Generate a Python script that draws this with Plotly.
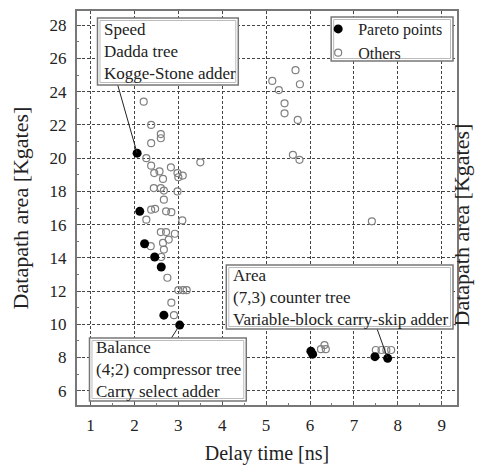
import plotly.graph_objects as go

# ---- data ----
pareto_delay = [2.06, 2.12, 2.23, 2.46, 2.61, 2.67, 3.03, 6.02, 6.06, 7.48, 7.77]
pareto_area = [20.3, 16.8, 14.85, 14.05, 13.45, 10.55, 9.95, 8.38, 8.2, 8.05, 7.95]

others_delay = [2.21, 2.38, 2.6, 2.6, 2.38, 2.27, 2.38, 2.45, 2.57, 2.65, 2.83, 2.98, 3.1, 3.0,
                3.5, 2.44, 2.6, 2.67, 2.98, 2.67, 2.38, 2.47, 2.72, 2.84, 2.27, 3.09, 2.6,
                2.72, 2.92, 2.78, 2.65, 2.37, 2.67, 2.61, 2.75, 3.0, 3.11, 3.19, 2.84, 2.9,
                5.67, 5.77, 5.14, 5.29, 5.42, 5.42, 5.72, 5.61, 5.76, 7.41,
                6.25, 6.33, 6.36, 7.5, 7.63, 7.74, 7.85]
others_area = [23.4, 22.0, 21.45, 21.2, 20.9, 20.0, 19.55, 19.1, 19.2, 18.75, 19.45, 19.1, 18.95, 18.85,
               19.75, 18.2, 18.2, 18.05, 18.0, 17.5, 16.9, 16.95, 16.8, 16.75, 16.3, 16.25, 15.55,
               15.55, 15.45, 15.1, 14.9, 14.7, 14.5, 14.05, 12.8, 12.05, 12.05, 12.05, 11.3, 10.55,
               25.3, 24.45, 24.65, 24.1, 23.3, 22.7, 22.3, 20.2, 19.9, 16.2,
               8.5, 8.75, 8.5, 8.45, 8.45, 8.45, 8.45]

x_ticks = [1, 2, 3, 4, 5, 6, 7, 8, 9]
y_ticks = [6, 8, 10, 12, 14, 16, 18, 20, 22, 24, 26, 28]

callout_texts = [
    "Speed<br>Dadda tree<br>Kogge-Stone adder",
    "Balance<br>(4;2) compressor tree<br>Carry select adder",
    "Area<br>(7,3) counter tree<br>Variable-block carry-skip adder",
]
callout_index = [0, 6, 10]   # which Pareto point each callout refers to

FONT = "Liberation Serif, Times New Roman, DejaVu Serif, serif"
OFF = 8  # page body margin
W, H = 489 - OFF, 468 - OFF
# plot area in screen pixels
SL, SR, ST, SB = 76.5, 457, 11, 405
L, R, T, B = SL - OFF, SR - OFF, ST - OFF, SB - OFF
XR = [0.69, 9.35]
YR = [5.14, 28.86]


def px(sx):
    return (sx - SL) / (SR - SL)


def py(sy):
    return (SB - sy) / (SB - ST)


def dx(v):
    return SL + (v - XR[0]) / (XR[1] - XR[0]) * (SR - SL)


def dy(v):
    return SB - (v - YR[0]) / (YR[1] - YR[0]) * (SB - ST)


fig = go.Figure()
fig.add_trace(go.Scatter(
    x=others_delay, y=others_area, mode="markers", name="Others",
    marker=dict(symbol="circle-open", size=7, color="#808080", line=dict(width=1.2, color="#808080")),
))
fig.add_trace(go.Scatter(
    x=pareto_delay, y=pareto_area, mode="markers", name="Pareto points",
    marker=dict(symbol="circle", size=9, color="black"),
))

# callout boxes (screen pixel boxes), text and leader lines
boxes = [(97, 18, 238, 85), (89, 338, 246, 401), (226, 265, 453, 329)]
line_start = [(117, 84), (171, 338), (377, 329)]
shapes = []
annotations = []
for (x0, y0, x1, y1), txt, idx, (lx, ly) in zip(boxes, callout_texts, callout_index, line_start):
    shapes.append(dict(type="line", xref="paper", yref="paper",
                       x0=px(lx), y0=py(ly),
                       x1=px(dx(pareto_delay[idx])), y1=py(dy(pareto_area[idx])),
                       line=dict(color="#222", width=1)))
    shapes.append(dict(type="rect", xref="paper", yref="paper",
                       x0=px(x0), y0=py(y1), x1=px(x1), y1=py(y0),
                       fillcolor="white", line=dict(color="#777", width=1.5), layer="above"))
    shapes.append(dict(type="rect", xref="paper", yref="paper",
                       x0=px(x0 + 2.5), y0=py(y1 - 2.5), x1=px(x1 - 2.5), y1=py(y0 + 2.5),
                       fillcolor="rgba(0,0,0,0)", line=dict(color="#bbb", width=1), layer="above"))
    annotations.append(dict(xref="paper", yref="paper", x=px(x0 + 5), y=py((y0 + y1) / 2),
                            xanchor="left", yanchor="middle", align="left", showarrow=False,
                            text=txt, font=dict(family=FONT, size=17, color="#222")))

# legend frame
LB = (331, 17, 453, 61)
shapes.append(dict(type="rect", xref="paper", yref="paper",
                   x0=px(LB[0]), y0=py(LB[3]), x1=px(LB[2]), y1=py(LB[1]),
                   fillcolor="white", line=dict(color="#777", width=1.5), layer="above"))
shapes.append(dict(type="rect", xref="paper", yref="paper",
                   x0=px(LB[0] + 2.5), y0=py(LB[3] - 2.5), x1=px(LB[2] - 2.5), y1=py(LB[1] + 2.5),
                   fillcolor="rgba(0,0,0,0)", line=dict(color="#bbb", width=1), layer="above"))

# right-side duplicate axis label
annotations.append(dict(xref="paper", yref="paper", x=px(477), y=py(225), textangle=-90,
                        showarrow=False, text="Datapath area [Kgates]",
                        font=dict(family=FONT, size=22, color="#222")))

axis_common = dict(
    showline=True, linecolor="#777", linewidth=2, mirror=True,
    showgrid=True, gridcolor="#444", gridwidth=1, griddash="3px,2px",
    ticks="inside", ticklen=4, tickcolor="#555", zeroline=False,
    tickfont=dict(family=FONT, size=17, color="#222"),
    minor=dict(ticks="inside", ticklen=2, tickcolor="#777", showgrid=False),
)

fig.update_layout(
    width=W, height=H,
    margin=dict(l=L, r=W - R, t=T, b=H - B, autoexpand=False),
    plot_bgcolor="white", paper_bgcolor="white",
    font=dict(family=FONT, color="#222"),
    xaxis=dict(range=XR, tickvals=x_ticks, ticktext=[str(v) for v in x_ticks],
               ticklabelstandoff=4,
               title=dict(text="Delay time [ns]", font=dict(family=FONT, size=20), standoff=12),
               **axis_common),
    yaxis=dict(range=YR, tickvals=y_ticks, ticktext=[str(v) for v in y_ticks],
               ticklabelstandoff=5,
               title=dict(text="Datapath area [Kgates]", font=dict(family=FONT, size=22), standoff=16),
               **axis_common),
    legend=dict(x=px(318), y=py(12), xanchor="left", yanchor="top",
                borderwidth=0, bgcolor="rgba(0,0,0,0)",
                font=dict(family=FONT, size=16, color="#222"),
                traceorder="reversed", itemwidth=30, tracegroupgap=0),
    shapes=shapes, annotations=annotations,
    showlegend=True,
)

fig.write_html("out.html")
